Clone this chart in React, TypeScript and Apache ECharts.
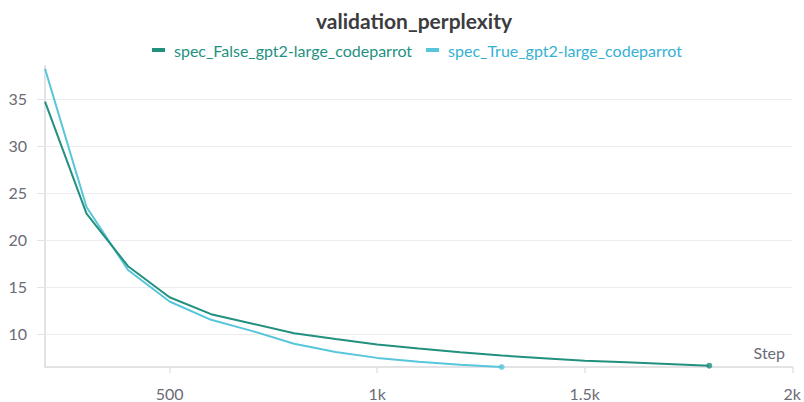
import React, { useEffect, useRef } from "react";
import * as echarts from "echarts";

const TITLE = "validation_perplexity";
const SERIES_FALSE = "spec_False_gpt2-large_codeparrot";
const SERIES_TRUE = "spec_True_gpt2-large_codeparrot";

const stepsFalse = [200, 300, 400, 500, 600, 700, 800, 900, 1000, 1100, 1200, 1300, 1400, 1500, 1600, 1700, 1800];
const valuesFalse = [34.7, 22.8, 17.2, 13.9, 12.1, 11.08, 10.07, 9.45, 8.88, 8.45, 8.05, 7.7, 7.42, 7.15, 6.98, 6.8, 6.62];

const stepsTrue = [200, 300, 400, 500, 600, 700, 800, 900, 1000, 1100, 1200, 1300];
const valuesTrue = [38.2, 23.5, 16.8, 13.45, 11.5, 10.3, 8.95, 8.08, 7.45, 7.03, 6.72, 6.48];

const xMin = 200;
const xMax = 2000;
const yMin = 6.48;
const yMax = 38.5;

const COLOR_FALSE = "#22907f";
const COLOR_TRUE = "#58c6da";
const FONT = "Lato, 'Noto Sans', sans-serif";

function fmtStep(v: number): string {
  if (v >= 1000) return v / 1000 + "k";
  return String(v);
}

export default function App() {
  const ref = useRef<HTMLDivElement>(null);
  useEffect(() => {
    if (!ref.current) return;
    const chart = echarts.init(ref.current, undefined, { renderer: "svg" });
    const pairsF = stepsFalse.map((s, i) => [s, valuesFalse[i]]);
    const pairsT = stepsTrue.map((s, i) => [s, valuesTrue[i]]);
    chart.setOption({
      animation: false,
      backgroundColor: "#ffffff",
      textStyle: { fontFamily: FONT },
      title: {
        text: TITLE,
        left: 311,
        top: 5,
        textStyle: { fontSize: 21, fontWeight: "bold", color: "#3b3b40", fontFamily: FONT },
      },
      legend: {
        top: 37,
        left: 147,
        icon: "rect",
        itemWidth: 13,
        itemHeight: 4,
        itemGap: 14,
        data: [
          { name: SERIES_FALSE, textStyle: { color: "#24917f" } },
          { name: SERIES_TRUE, textStyle: { color: "#36b1d3" } },
        ],
        textStyle: { fontSize: 16, padding: [0, 0, 0, 4], fontFamily: FONT },
      },
      grid: { left: 45, right: 11, top: 66, bottom: 35, containLabel: false },
      xAxis: {
        type: "value",
        min: xMin,
        max: xMax,
        minInterval: 500,
        maxInterval: 500,
        axisLine: { show: true, lineStyle: { color: "#e3e3e6", width: 2 } },
        axisTick: { show: true, length: 6, lineStyle: { color: "#e3e3e6", width: 1.5 } },
        splitLine: { show: false },
        axisLabel: {
          showMinLabel: false,
          color: "#6b6b76",
          fontSize: 16,
          margin: 18,
          formatter: (v: number) => fmtStep(v),
        },
      },
      yAxis: {
        type: "value",
        min: yMin,
        max: yMax,
        minInterval: 5,
        maxInterval: 5,
        axisLine: { show: true, lineStyle: { color: "#e3e3e6", width: 2 } },
        axisTick: { show: true, length: 8, lineStyle: { color: "#e3e3e6" } },
        splitLine: { show: true, showMinLine: false, showMaxLine: false, lineStyle: { color: "#ececee", width: 1 } },
        axisLabel: {
          showMinLabel: false,
          showMaxLabel: false,
          color: "#6b6b76",
          fontSize: 16,
          margin: 18,
        },
      },
      graphic: [
        {
          type: "text",
          right: 19,
          top: 344,
          style: { text: "Step", fill: "#6b6b76", fontSize: 16, fontFamily: FONT },
        },
      ],
      series: [
        {
          name: SERIES_FALSE,
          type: "line",
          data: pairsF,
          showSymbol: false,
          color: COLOR_FALSE,
          lineStyle: { width: 2, color: COLOR_FALSE },
          z: 3,
        },
        {
          name: SERIES_TRUE,
          type: "line",
          data: pairsT,
          showSymbol: false,
          color: COLOR_TRUE,
          lineStyle: { width: 2, color: COLOR_TRUE },
          z: 2,
        },
        {
          name: "endF",
          type: "scatter",
          data: [pairsF[pairsF.length - 1]],
          symbolSize: 6,
          itemStyle: { color: COLOR_FALSE },
          z: 4,
        },
        {
          name: "endT",
          type: "scatter",
          data: [pairsT[pairsT.length - 1]],
          symbolSize: 6,
          itemStyle: { color: COLOR_TRUE },
          z: 4,
        },
      ],
    });
    return () => chart.dispose();
  }, []);
  return (
    <div
      ref={ref}
      style={{ position: "fixed", left: 0, top: 0, width: 804, height: 402, overflow: "hidden" }}
    />
  );
}
